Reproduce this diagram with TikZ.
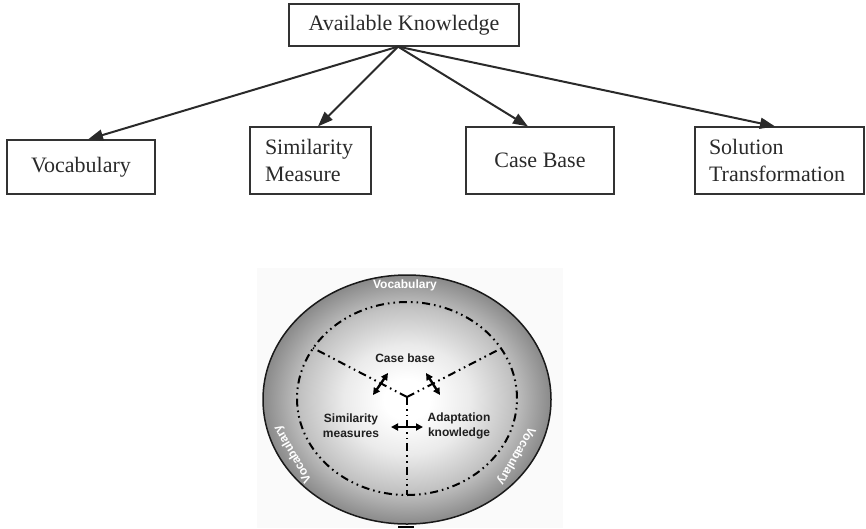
\documentclass[tikz,border=0pt]{standalone}
\usepackage{fontspec}
\setmainfont{Liberation Serif}
\setsansfont{Liberation Sans}
\usetikzlibrary{arrows.meta}

\definecolor{ink}{HTML}{2A2A2A}
\definecolor{boxline}{HTML}{333333}

% soft grey ball: white core fading to grey at the rim (rim sits at 25bp)
\pgfdeclareradialshading{greyball}{\pgfpoint{0bp}{0bp}}{%
  color(0bp)=(white); color(4bp)=(white); color(11bp)=(black!8);
  color(18.5bp)=(black!24); color(25bp)=(black!46); color(50bp)=(black!46)}

\tikzset{
  kbox/.style={draw=boxline, line width=1.2pt, text=ink, inner sep=0pt,
    font=\fontsize{22}{27}\selectfont},
  feed/.style={draw=ink, line width=2pt, -{Triangle[length=15pt,width=11pt]}},
  ring/.style={line width=2pt, dash pattern=on 8pt off 4pt on 1.6pt off 4pt on 1.6pt off 4pt},
  swap/.style={line width=2.4pt, {Triangle[length=7pt,width=7pt]}-{Triangle[length=7pt,width=7pt]}},
  ringlabel/.style={font=\sffamily\bfseries\fontsize{12}{15}\selectfont, text=black!88, align=center, inner sep=0pt},
  rimlabel/.style={font=\sffamily\bfseries\fontsize{12}{15}\selectfont, text=white, inner sep=0pt}
}

\begin{document}
\begin{tikzpicture}[x=1pt, y=-1pt]
\useasboundingbox (0,0) rectangle (866,528);

% ---- knowledge containers ----
\node[kbox, minimum width=230pt, minimum height=42pt] (avail) at (404,25) {Available Knowledge};
\node[kbox, minimum width=148pt, minimum height=54pt] (voc) at (81,167) {Vocabulary};
\node[kbox, minimum width=121pt, minimum height=67pt, text width=91pt, align=left] (sim) at (310.5,160.5) {Similarity\\Measure};
\node[kbox, minimum width=148pt, minimum height=67pt] (cb) at (540,160.5) {Case Base};
\node[kbox, minimum width=169pt, minimum height=67pt, text width=141pt, align=left] (sol) at (779.5,160.5) {Solution\\Transformation};

\coordinate (hub) at ([xshift=-6pt]avail.south);
\draw[feed] (hub) -- ([xshift=7pt]voc.north);
\draw[feed] (hub) -- ([xshift=7.5pt]sim.north);
\draw[feed] (hub) -- ([xshift=-12pt]cb.north);
\draw[feed] (hub) -- ([xshift=-4.5pt]sol.north);

% ---- knowledge ball ----
\fill[black!2] (257,268) rectangle (563,528);
\shade[shading=greyball] (407,399.5) ellipse [x radius=144pt, y radius=124.5pt];
\draw[line width=1.5pt, black!90] (407,399.5) ellipse [x radius=144pt, y radius=124.5pt];
\fill[black] (398,528) rectangle (414,526);

\draw[ring] (407,398.5) ellipse [x radius=110pt, y radius=96.5pt];
\coordinate (mid) at (407,397);
\coordinate (cutL) at (313,348);
\coordinate (cutR) at (498,350);
\coordinate (cutB) at (407,495);
\draw[ring] (mid) -- (cutL);
\draw[ring] (mid) -- (cutR);
\draw[ring] (mid) -- (cutB);

\node[rimlabel] (vtop) at (405,285) {Vocabulary};
\node[rimlabel, rotate=120] (vleft) at (293,454) {Vocabulary};
\node[rimlabel, rotate=240] (vright) at (516,456) {Vocabulary};

\node[ringlabel] (case) at (405,358) {Case base};
\node[ringlabel] (simm) at (351,425.5) {Similarity\\measures};
\node[ringlabel] (adapt) at (459,425.5) {Adaptation\\knowledge};

\coordinate (aL1) at (373,395);
\coordinate (aL2) at (388,373);
\coordinate (aR1) at (426,373);
\coordinate (aR2) at (440,395);
\coordinate (aH1) at (391,427);
\coordinate (aH2) at (423,427);
\draw[swap] (aL1) -- (aL2);
\draw[swap] (aR1) -- (aR2);
\draw[swap] (aH1) -- (aH2);
\end{tikzpicture}
\end{document}
